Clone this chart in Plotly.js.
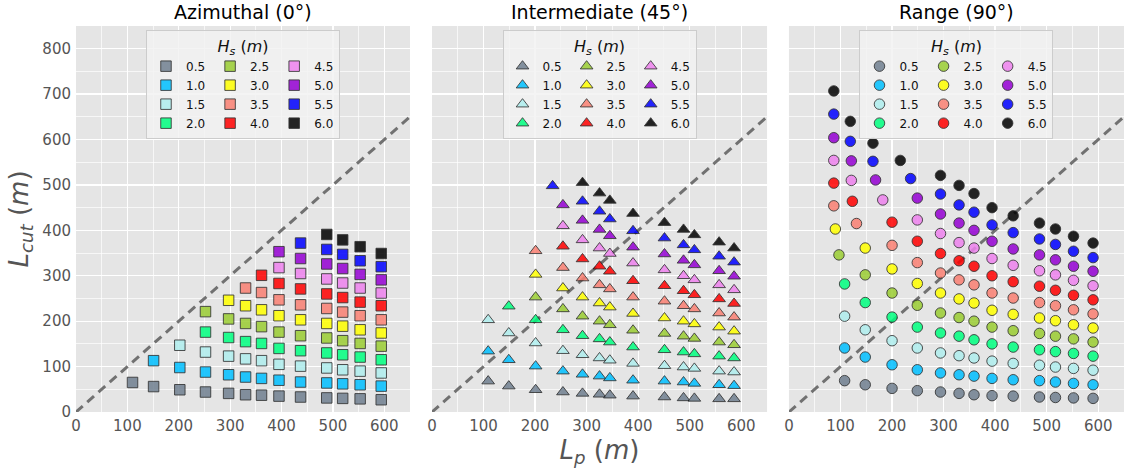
<!DOCTYPE html>
<html>
<head>
<meta charset="utf-8">
<script src="https://cdn.plot.ly/plotly-3.0.1.min.js"></script>
<style>
  html, body { margin: 0; padding: 0; background: #ffffff; }
  #chart { width: 1127px; height: 470px; }
</style>
</head>
<body>
<div id="chart"></div>
<script>
// Significant wave height classes and their colours
const hsLabels = ['0.5', '1.0', '1.5', '2.0', '2.5', '3.0', '3.5', '4.0', '4.5', '5.0', '5.5', '6.0'];
const hsColors = ['#708090', '#00BFFF', '#AFEEEE', '#00FF7F', '#9ACD32', '#FFFF00',
                  '#FA8072', '#FF0000', '#EE82EE', '#9400D3', '#0000FF', '#000000'];

const panelTitles = ['Azimuthal (0°)', 'Intermediate (45°)', 'Range (90°)'];
const xTicks = [0, 100, 200, 300, 400, 500, 600];
const yTicks = [0, 100, 200, 300, 400, 500, 600, 700, 800];
const lpRange = [0, 650];
const lcutRange = [0, 850];

// Azimuthal: one peak wavelength per column, cut-off lengths listed from Hs = 0.5 upward
const azLp = [110, 151, 202, 252, 297, 330, 361, 395, 437, 488, 519, 553, 594];
const azLcut = [
  [65],
  [56, 113],
  [49, 98, 147],
  [44, 88, 132, 176, 221],
  [41, 82, 123, 164, 205, 246],
  [38, 77, 117, 155, 195, 234, 273],
  [37, 74, 113, 151, 188, 225, 263, 301],
  [35, 70, 105, 140, 176, 212, 247, 283, 318, 353],
  [33, 66, 101, 135, 168, 203, 236, 271, 305, 338, 372],
  [31, 64, 97, 130, 163, 195, 228, 260, 293, 326, 358, 391],
  [30, 62, 93, 126, 157, 189, 220, 252, 284, 316, 347, 379],
  [29, 60, 90, 121, 151, 181, 212, 242, 273, 303, 333, 364],
  [27, 57, 86, 115, 145, 174, 203, 234, 262, 291, 320, 349]
];

// Intermediate: a column's wavelength may be a single value or one value per Hs class
const imLp = [109, 149, 201,
  [254, 254, 254, 254, 254, 254, 254, 254, 254, 254, 234],
  292, 325, 345, 390, 451, 488, 509, 557, 586];
const imLcut = [
  [68, 134, 203],
  [57, 115, 174, 233],
  [49, 101, 152, 203, 253, 303, 355],
  [44, 90, 135, 181, 227, 273, 318, 365, 410, 456, 498],
  [41, 83, 126, 168, 211, 253, 295, 337, 379, 422, 464, 505],
  [39, 79, 119, 161, 200, 240, 280, 321, 361, 402, 442, 482],
  [37, 75, 114, 154, 192, 231, 271, 310, 349, 388, 425, 466],
  [35, 70, 107, 143, 180, 217, 253, 289, 328, 363, 399, 437],
  [33, 68, 102, 137, 173, 207, 244, 278, 313, 348, 383, 417],
  [31, 66, 99, 132, 167, 200, 234, 267, 300, 334, 368, 402],
  [30, 63, 96, 128, 162, 194, 227, 258, 291, 324, 357, 390],
  [29, 60, 90, 123, 154, 187, 218, 249, 280, 311, 343, 374],
  [29, 58, 88, 119, 148, 178, 209, 239, 269, 299, 330, 361]
];

// Range
const rgLp = [
  [108, 108, 108, 108, 97, 90, 87, 87, 87, 87, 87, 87],
  [148, 148, 148, 148, 148, 148, 131, 123, 121, 121, 119, 119],
  [200, 200, 200, 200, 200, 200, 200, 200, 182, 168, 163, 163],
  [249, 249, 249, 249, 249, 249, 249, 249, 249, 249, 236, 216],
  294, 330, 359, 394, 435, 486, 517, 552, 590];
const rgLcut = [
  [69, 141, 211, 282, 346, 403, 454, 504, 554, 604, 656, 707],
  [60, 121, 181, 241, 302, 361, 415, 464, 510, 553, 596, 640],
  [52, 104, 157, 209, 262, 315, 367, 418, 467, 511, 552, 592],
  [47, 93, 141, 187, 235, 283, 329, 376, 423, 471, 514, 554],
  [44, 86, 130, 174, 218, 262, 306, 349, 393, 436, 480, 521],
  [41, 82, 124, 167, 208, 249, 291, 333, 373, 416, 456, 499],
  [38, 79, 119, 159, 200, 240, 280, 321, 361, 400, 440, 481],
  [36, 74, 112, 150, 187, 224, 262, 300, 338, 376, 412, 450],
  [35, 71, 107, 143, 179, 215, 251, 287, 323, 359, 395, 432],
  [33, 69, 103, 137, 173, 207, 241, 277, 311, 346, 381, 416],
  [32, 66, 99, 133, 167, 201, 234, 268, 302, 335, 369, 403],
  [31, 63, 96, 129, 161, 192, 225, 257, 290, 321, 354, 387],
  [30, 60, 92, 123, 154, 185, 216, 247, 278, 310, 340, 372]
];

const panels = [
  { lp: azLp, lcut: azLcut, symbol: 'square', size: 10.5 },
  { lp: imLp, lcut: imLcut, symbol: 'triangle-up', size: 11 },
  { lp: rgLp, lcut: rgLcut, symbol: 'circle', size: 10.5 }
];

// Plot area placement (paper fractions)
const domains = [[0, 0.3187], [0.3397, 0.6594], [0.6803, 1]];

const FONT = 'DejaVu Sans, Liberation Sans, sans-serif';
const traces = [];

panels.forEach((p, pi) => {
  const sfx = pi === 0 ? '' : String(pi + 1);
  // y = x reference line
  traces.push({
    type: 'scatter', mode: 'lines',
    x: lpRange, y: lpRange,
    xaxis: 'x' + sfx, yaxis: 'y' + sfx,
    line: { color: 'rgba(100,100,100,0.9)', width: 3, dash: '9px,6px' },
    showlegend: false, hoverinfo: 'skip'
  });
  hsLabels.forEach((lab, k) => {
    const xs = [], ys = [];
    p.lcut.forEach((col, c) => {
      if (col[k] === undefined) return;
      const lpc = p.lp[c];
      xs.push(Array.isArray(lpc) ? lpc[k] : lpc);
      ys.push(col[k]);
    });
    traces.push({
      type: 'scatter', mode: 'markers',
      x: xs, y: ys, name: lab,
      xaxis: 'x' + sfx, yaxis: 'y' + sfx,
      legend: 'legend' + sfx,
      legendgroup: 'p' + pi + 'g' + Math.floor(k / 4),
      marker: {
        symbol: p.symbol, size: p.size, color: hsColors[k], opacity: 0.85,
        line: { color: 'rgba(20,20,20,0.85)', width: 1 }
      }
    });
  });
});

const layout = {
  width: 1127, height: 470,
  margin: { l: 76, r: 3, t: 26, b: 58 },
  paper_bgcolor: '#ffffff',
  plot_bgcolor: '#e5e5e5',
  font: { family: FONT, color: '#555555' },
  annotations: [],
  showlegend: true
};

function xAxis(d, withTitle) {
  const ax = {
    domain: d, range: lpRange, tickvals: xTicks, ticktext: xTicks.map(String),
    showgrid: true, gridcolor: '#ffffff', gridwidth: 1.3,
    minor: { dtick: 50, tick0: 0, showgrid: true, gridcolor: '#ffffff', gridwidth: 0.7 },
    zeroline: false, showline: false, ticks: '',
    tickfont: { family: FONT, size: 15, color: '#555555' },
    ticklabelstandoff: 3, fixedrange: true
  };
  if (withTitle) {
    ax.title = { text: '<i>L</i><sub><i>p</i></sub> (<i>m</i>)', font: { family: FONT, size: 26, color: '#555555' }, standoff: 6 };
  }
  return ax;
}
function yAxis(showLabels, withTitle) {
  const ax = {
    domain: [0, 1], range: lcutRange, tickvals: yTicks, ticktext: yTicks.map(String),
    showgrid: true, gridcolor: '#ffffff', gridwidth: 1.3,
    minor: { dtick: 50, tick0: 0, showgrid: true, gridcolor: '#ffffff', gridwidth: 0.7 },
    zeroline: false, showline: false, ticks: '', showticklabels: showLabels,
    tickfont: { family: FONT, size: 15, color: '#555555' },
    ticklabelstandoff: 4, fixedrange: true
  };
  if (withTitle) {
    ax.title = { text: '<i>L</i><sub><i>cut</i></sub> (<i>m</i>)', font: { family: FONT, size: 26, color: '#555555' }, standoff: 6 };
  }
  return ax;
}

domains.forEach((d, i) => {
  const sfx = i === 0 ? '' : String(i + 1);
  layout['xaxis' + sfx] = xAxis(d, i === 1);
  const ya = yAxis(i === 0, i === 0);
  ya.anchor = 'x' + sfx;
  layout['xaxis' + sfx].anchor = 'y' + sfx;
  layout['yaxis' + sfx] = ya;
  const xc = (d[0] + d[1]) / 2;
  layout['legend' + sfx] = {
    x: xc, xanchor: 'center', y: 0.99, yanchor: 'top',
    orientation: 'h', traceorder: 'grouped', tracegroupgap: 0,
    bgcolor: 'rgba(242,242,242,0.85)', bordercolor: '#cccccc', borderwidth: 1,
    font: { family: FONT, size: 12, color: '#111111' },
    itemwidth: 30,
    title: { text: '<i>H</i><sub><i>s</i></sub> (<i>m</i>)', side: 'top center', font: { family: FONT, size: 16, color: '#111111' } }
  };
  layout.annotations.push({
    text: panelTitles[i], xref: 'paper', yref: 'paper', x: xc, y: 1,
    xanchor: 'center', yanchor: 'bottom', yshift: 1, showarrow: false,
    font: { family: FONT, size: 19, color: '#000000' }
  });
});

Plotly.newPlot('chart', traces, layout, { displayModeBar: false, staticPlot: true });
</script>
</body>
</html>
